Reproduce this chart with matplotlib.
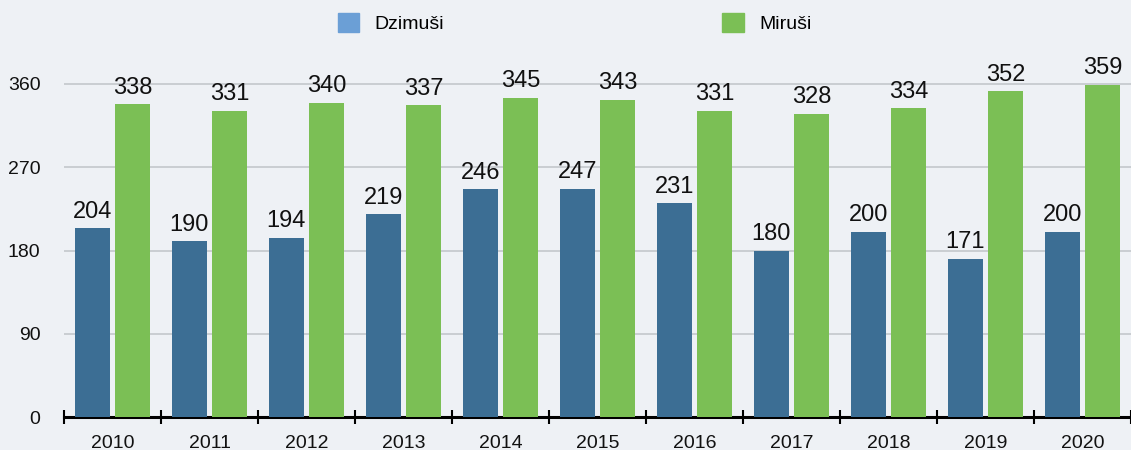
import numpy as np
import matplotlib
matplotlib.use("Agg")
import matplotlib.pyplot as plt
from matplotlib.patches import Patch

plt.rcParams['font.family'] = ['Liberation Sans', 'DejaVu Sans']

# data
years = ["2010", "2011", "2012", "2013", "2014", "2015", "2016", "2017", "2018", "2019", "2020"]
dzimusi = [204, 190, 194, 219, 246, 247, 231, 180, 200, 171, 200]
mirusi = [338, 331, 340, 337, 345, 343, 331, 328, 334, 352, 359]
y_ticks = [0, 90, 180, 270, 360]

bg = "#eef1f5"
blue = "#3c6e94"
blue_leg = "#6b9fd6"
green = "#7bbf55"

fig = plt.figure(figsize=(11.31, 4.5), dpi=100, facecolor=bg)
ax = fig.add_axes([64 / 1131, 33 / 450, 1 - 64 / 1131, 370 / 450])
ax.set_facecolor(bg)

x = np.arange(len(years))
w = 0.36
off = 0.21
b1 = ax.bar(x - off, dzimusi, w, color=blue, zorder=3)
b2 = ax.bar(x + off, mirusi, w, color=green, zorder=3)

for bars, vals in ((b1, dzimusi), (b2, mirusi)):
    for b, v in zip(bars, vals):
        ax.text(b.get_x() + b.get_width() / 2, v + 6, str(v), ha="center", va="bottom",
                fontsize=17, color="#111111", zorder=4)

ax.set_xlim(-0.5, len(years) - 0.5)
ax.set_ylim(0, 400)

ax.set_yticks(y_ticks)
ax.set_yticklabels([str(t) for t in y_ticks], fontsize=14, color="#111111")
ax.tick_params(axis="y", length=0, pad=17)
ax.yaxis.grid(True, color="#c3c7cb", linewidth=1.2, zorder=0)

# boundaries as major ticks, year labels on minor ticks
ax.set_xticks(np.arange(len(years) + 1) - 0.5)
ax.set_xticklabels([])
ax.tick_params(axis="x", which="major", direction="inout", length=10, width=1.5, color="black")
ax.set_xticks(x, minor=True)
ax.set_xticklabels(years, minor=True, fontsize=14, color="#111111")
ax.tick_params(axis="x", which="minor", length=0, pad=13)

for s in ("top", "right", "left"):
    ax.spines[s].set_visible(False)
ax.spines["bottom"].set_linewidth(2.2)
ax.spines["bottom"].set_color("black")

handles = [Patch(color=blue_leg, label="Dzimuši"), Patch(color=green, label="Miruši")]
fig.legend(handles=handles, loc="center", bbox_to_anchor=(0.508, 1 - 23 / 450), ncol=2,
           frameon=False, fontsize=14, columnspacing=14.3, handlelength=1.1, handleheight=1.1,
           handletextpad=0.8)

fig.savefig("out.png", dpi=100, facecolor=bg)
